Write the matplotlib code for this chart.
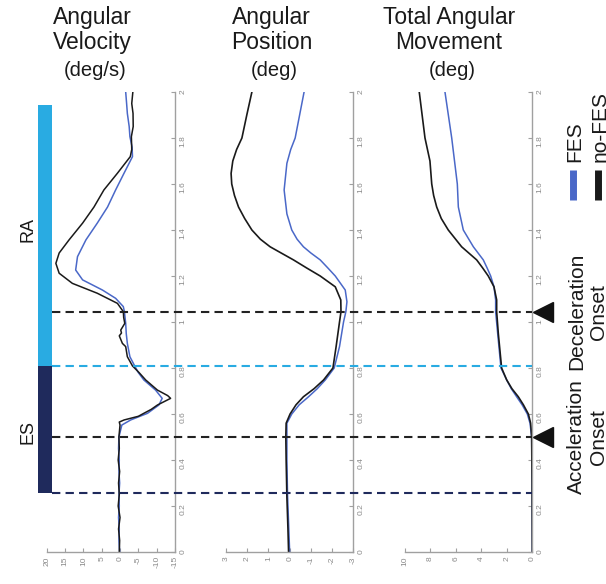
import matplotlib
matplotlib.use('Agg')
import matplotlib.pyplot as plt
from matplotlib.ticker import FuncFormatter

plt.rcParams['font.family'] = ['Liberation Sans', 'DejaVu Sans']
plt.rcParams['axes.unicode_minus'] = False

# ---------------- data ----------------
time_ticks = [0, 0.2, 0.4, 0.6, 0.8, 1.0, 1.2, 1.4, 1.6, 1.8, 2.0]
vel_ticks = [20, 15, 10, 5, 0, -5, -10, -15]
pos_ticks = [3, 2, 1, 0, -1, -2, -3]
tot_ticks = [10, 8, 6, 4, 2, 0]

titles = ["Angular\nVelocity", "Angular\nPosition", "Total Angular\nMovement"]
units = ["(deg/s)", "(deg)", "(deg)"]

# Angular velocity (deg/s)
vel_t_nofes = [0, 0.05, 0.1, 0.15, 0.2, 0.25, 0.3, 0.35, 0.4, 0.45, 0.5, 0.552, 0.565,
               0.574, 0.59, 0.603, 0.62, 0.639, 0.668, 0.68, 0.704, 0.748, 0.78, 0.809,
               0.849, 0.893, 0.907, 0.94, 0.952, 0.965, 0.994, 1.02, 1.045, 1.081, 1.125,
               1.168, 1.212, 1.255, 1.30, 1.357, 1.43, 1.50, 1.574, 1.647, 1.719, 1.75,
               1.806, 1.85, 1.907, 1.95, 2.0]
vel_v_nofes = [0.2, 0.1, 0.4, 0.0, 0.5, 0.2, 0.4, 0.1, 0.5, 0.2, 0.3, 0.0, 0.2,
               -1.1, -5.0, -6.5, -8.5, -10.2, -13.8, -13.0, -10.2, -7.0, -5.2, -3.4,
               -2.0, -1.55, -0.65, 0.2, -0.4, -0.2, -1.3, -1.0, -0.9, 0.7, 6.2,
               13.0, 16.6, 17.5, 16.6, 13.9, 10.2, 7.1, 4.4, 0.7, -2.8, -3.2,
               -3.1, -3.6, -3.55, -3.2, -3.5]

vel_t_fes = [0, 0.05, 0.1, 0.15, 0.2, 0.25, 0.3, 0.35, 0.4, 0.45, 0.5, 0.552, 0.574,
             0.603, 0.639, 0.668, 0.704, 0.748, 0.78, 0.809, 0.849, 0.907, 0.95, 0.994,
             1.045, 1.067, 1.103, 1.139, 1.183, 1.226, 1.284, 1.357, 1.43, 1.50, 1.574,
             1.647, 1.719, 1.76, 1.806, 1.85, 1.907, 1.95, 2.0]
vel_v_fes = [0.1, 0.3, 0.2, 0.4, 0.2, 0.3, 0.1, 0.3, 0.2, 0.4, 0.3, -0.5, -2.9,
             -7.5, -10.6, -11.5, -9.7, -6.5, -5.0, -4.0, -2.7, -2.0, -1.7, -1.55,
             -1.2, -0.9, 1.2, 4.8, 10.2, 12.1, 11.6, 9.3, 6.2, 3.4, 1.2,
             -1.1, -3.4, -3.3, -2.7, -2.5, -2.0, -1.8, -1.55]

# Angular position (deg)
pos_t_nofes = [0, 0.1, 0.24, 0.4, 0.5, 0.56, 0.6, 0.64, 0.675, 0.71, 0.748, 0.8, 0.893,
               1.0, 1.045, 1.096, 1.153, 1.2, 1.235, 1.27, 1.3, 1.327, 1.36, 1.4, 1.45,
               1.5, 1.55, 1.6, 1.646, 1.70, 1.75, 1.8, 1.9, 2.0]
pos_v_nofes = [0.05, 0.08, 0.13, 0.165, 0.18, 0.165, -0.02, -0.3, -0.65, -1.15, -1.60,
               -2.04, -2.19, -2.35, -2.42, -2.41, -2.15, -1.44, -0.8, -0.18, 0.4, 0.92,
               1.38, 1.78, 2.12, 2.41, 2.6, 2.73, 2.76, 2.68, 2.5, 2.25, 2.02, 1.78]

pos_t_fes = [0, 0.25, 0.4, 0.5, 0.56, 0.6, 0.64, 0.675, 0.71, 0.748, 0.8, 0.893, 1.0,
             1.045, 1.088, 1.139, 1.2, 1.235, 1.27, 1.3, 1.327, 1.36, 1.4, 1.47, 1.574,
             1.69, 1.75, 1.8, 1.9, 2.0]
pos_v_fes = [0.0, 0.1, 0.13, 0.13, 0.13, -0.10, -0.45, -0.89, -1.3, -1.68, -2.10,
             -2.35, -2.54, -2.65, -2.70, -2.62, -2.15, -1.8, -1.44, -1.0, -0.65, -0.35,
             -0.10, 0.13, 0.26, 0.13, -0.05, -0.26, -0.47, -0.68]

# Total angular movement (deg)
tot_t_nofes = [0, 0.3, 0.5, 0.56, 0.6, 0.64, 0.675, 0.71, 0.748, 0.8, 0.95, 1.045, 1.096,
               1.153, 1.2, 1.235, 1.27, 1.327, 1.4, 1.45, 1.5, 1.55, 1.6, 1.7, 1.8, 2.0]
tot_v_nofes = [0.0, 0.02, 0.05, 0.13, 0.31, 0.7, 1.10, 1.6, 2.01, 2.41, 2.67, 2.80, 2.80,
               3.01, 3.46, 3.9, 4.37, 5.55, 6.60, 7.15, 7.51, 7.75, 7.90, 8.04, 8.43, 8.88]

tot_t_fes = [0, 0.3, 0.5, 0.56, 0.6, 0.64, 0.675, 0.71, 0.748, 0.8, 0.95, 1.045, 1.096,
             1.153, 1.2, 1.235, 1.27, 1.327, 1.4, 1.5, 1.6, 1.8, 2.0]
tot_v_fes = [0.0, 0.02, 0.05, 0.18, 0.39, 0.8, 1.23, 1.65, 2.01, 2.46, 2.72, 2.88, 2.88,
             3.01, 3.27, 3.55, 3.85, 4.63, 5.42, 5.81, 5.89, 6.33, 6.86]

# Event times (s)
es_start = 0.258
accel_onset = 0.50
ra_start = 0.81
decel_onset = 1.045
ra_end = 1.943
ra_label_t = 1.40
es_label_t = 0.52

# ---------------- style ----------------
W, H = 606, 584
col_fes = '#4a68c8'
col_nofes = '#1a1a1a'
col_ra = '#29abe2'
col_es = '#1f2a5c'
spine_col = '#a0a0a0'
tick_col = '#8a8a8a'

fig = plt.figure(figsize=(W / 100, H / 100), dpi=100)

y_bot = 1 - 552 / H
y_top = 1 - 92 / H
ax_h = y_top - y_bot

fmt = FuncFormatter(lambda v, p: f'{v:g}')


def make_panel(x0, x1, xlim, xticks):
    ax = fig.add_axes([x0 / W, y_bot, (x1 - x0) / W, ax_h])
    ax.set_xlim(*xlim)
    ax.set_ylim(0, 2)
    ax.set_xticks(xticks)
    ax.set_yticks(time_ticks)
    ax.xaxis.set_major_formatter(fmt)
    ax.yaxis.set_major_formatter(fmt)
    for s in ['left', 'top']:
        ax.spines[s].set_visible(False)
    for s in ['right', 'bottom']:
        ax.spines[s].set_color(spine_col)
        ax.spines[s].set_linewidth(1.0)
    ax.yaxis.tick_right()
    ax.tick_params(axis='both', direction='in', length=3, width=0.8,
                   color=spine_col, labelcolor=tick_col, labelsize=6, pad=3)
    ax.tick_params(axis='y', labelrotation=90)
    ax.tick_params(axis='x', labelrotation=90)
    ax.patch.set_alpha(0)
    return ax


ax1 = make_panel(46.7, 175.0, (20, -15), vel_ticks)
ax2 = make_panel(226.0, 353.3, (3, -3), pos_ticks)
ax3 = make_panel(405.0, 532.3, (10, 0), tot_ticks)

ax1.plot(vel_v_fes, vel_t_fes, color=col_fes, lw=1.1)
ax1.plot(vel_v_nofes, vel_t_nofes, color=col_nofes, lw=1.1)
ax2.plot(pos_v_fes, pos_t_fes, color=col_fes, lw=1.1)
ax2.plot(pos_v_nofes, pos_t_nofes, color=col_nofes, lw=1.2)
ax3.plot(tot_v_fes, tot_t_fes, color=col_fes, lw=1.1)
ax3.plot(tot_v_nofes, tot_t_nofes, color=col_nofes, lw=1.2)

# ---------------- overlay ----------------
ov = fig.add_axes([0, y_bot, 1, ax_h])
ov.set_xlim(0, W)
ov.set_ylim(0, 2)
ov.axis('off')
ov.patch.set_alpha(0)

# muscle activation bars
ov.bar(45, ra_end - ra_start, bottom=ra_start, width=14, color=col_ra, clip_on=False)
ov.bar(45, ra_start - es_start, bottom=es_start, width=14, color=col_es, clip_on=False)
ov.text(28, ra_label_t, 'RA', rotation=90, ha='center', va='center',
        fontsize=13, color='#1a1a1a')
ov.text(28, es_label_t, 'ES', rotation=90, ha='center', va='center', fontsize=13,
        color='#1a1a1a')

# event dashed lines
dash = (4, 2.5)
for t, c in [(es_start, col_es), (accel_onset, '#222222'), (ra_start, col_ra),
             (decel_onset, '#222222')]:
    ov.plot([52, 532], [t, t], color=c, lw=1.5, dashes=dash, clip_on=False)

# onset markers
ov.plot([543, 543], [accel_onset, decel_onset], ls='none', marker='<', ms=14.5,
        color='#111111', clip_on=False)

ov.text(587.5, decel_onset, 'Deceleration\nOnset', rotation=90, ha='center', va='center',
        multialignment='center', fontsize=15, color='#1a1a1a', clip_on=False)
ov.text(587.5, accel_onset, 'Acceleration\nOnset', rotation=90, ha='center', va='center',
        multialignment='center', fontsize=15, color='#1a1a1a', clip_on=False)

# legend
ov.plot([572.5, 572.5], [1.53, 1.66], color=col_fes, lw=5, solid_capstyle='butt', clip_on=False)
ov.plot([597.5, 597.5], [1.53, 1.66], color=col_nofes, lw=5, solid_capstyle='butt', clip_on=False)
ov.text(575, 1.696, 'FES', rotation=90, ha='center', va='bottom', fontsize=15,
        color='#1a1a1a', clip_on=False)
ov.text(600, 1.696, 'no-FES', rotation=90, ha='center', va='bottom', fontsize=15,
        color='#1a1a1a', clip_on=False)

# titles
for cx, ttl, un in zip([92, 271.5, 449], titles, units):
    fig.text(cx / W, 1 - 30 / H, ttl, ha='center', va='center', fontsize=16.5,
             linespacing=1.15, color='#1a1a1a')
    fig.text(cx / W + 3 / W, 1 - 70 / H, un, ha='center', va='center', fontsize=14.5,
             color='#1a1a1a')

fig.savefig('out.png', dpi=100)
